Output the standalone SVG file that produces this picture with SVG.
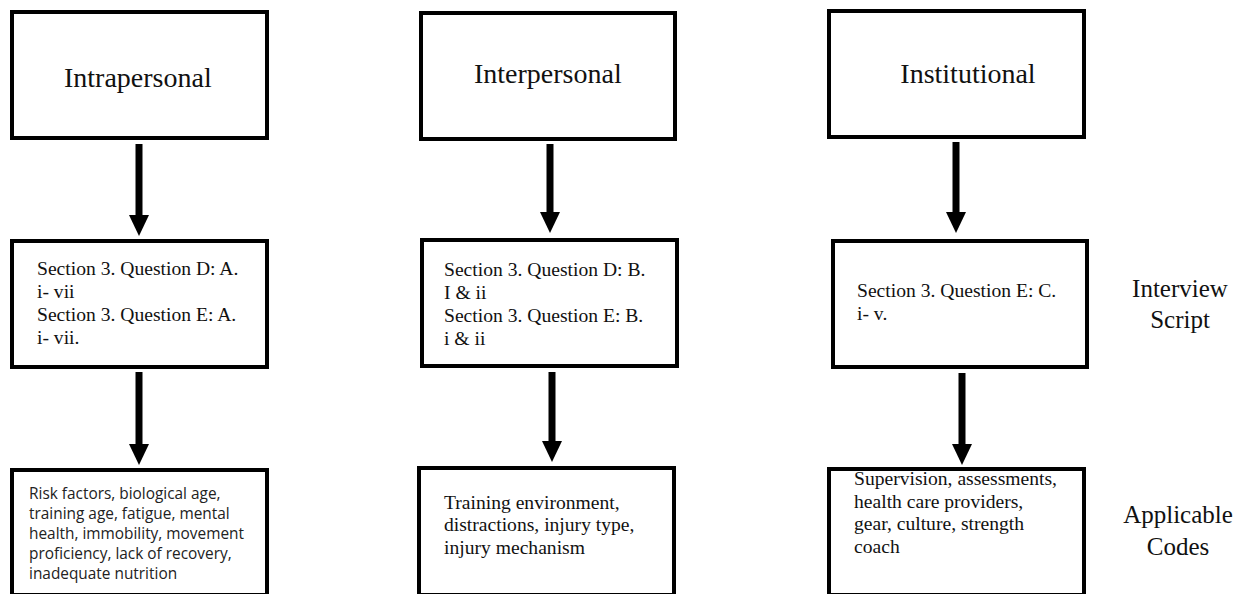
<svg xmlns="http://www.w3.org/2000/svg" width="1243" height="594" viewBox="0 0 1243 594">
  <style>
    .box { fill: #ffffff; stroke: #000000; stroke-width: 4; }
    .title { font-family: "Liberation Serif", "Times New Roman", serif; font-size: 28px; fill: #111111; }
    .body { font-family: "Liberation Serif", "Times New Roman", serif; font-size: 19.6px; fill: #111111; }
    .sans { font-family: "Open Sans", "Noto Sans", sans-serif; font-size: 15.4px; fill: #222222; }
    .side { font-family: "Liberation Serif", "Times New Roman", serif; font-size: 25px; fill: #111111; text-anchor: middle; }
    .link { stroke: #000000; stroke-width: 7; fill: none; marker-end: url(#head); }
  </style>
  <defs>
    <marker id="head" markerUnits="userSpaceOnUse" viewBox="0 -10 21 20" refX="0" refY="0" markerWidth="21" markerHeight="20" orient="auto">
      <path d="M0,-10 L21,0 L0,10 Z" fill="#000000"/>
    </marker>
  </defs>
  <rect width="1243" height="594" fill="#ffffff"/>

  <!-- Top level: the three spheres of influence -->
  <g id="intrapersonal">
    <rect class="box" x="12" y="12" width="255" height="126"/>
    <text class="title" x="64" y="87">Intrapersonal</text>
  </g>
  <g id="interpersonal">
    <rect class="box" x="421" y="13" width="254" height="126"/>
    <text class="title" x="474" y="83">Interpersonal</text>
  </g>
  <g id="institutional">
    <rect class="box" x="829" y="11" width="255" height="126"/>
    <text class="title" x="968" y="83" text-anchor="middle">Institutional</text>
  </g>

  <!-- Middle level: interview script references -->
  <g id="script-intrapersonal">
    <rect class="box" x="12" y="241" width="255" height="126"/>
    <text class="body" x="37" y="275">Section 3. Question D: A.</text>
    <text class="body" x="37" y="298">i- vii</text>
    <text class="body" x="37" y="321">Section 3. Question E: A.</text>
    <text class="body" x="37" y="344">i- vii.</text>
  </g>
  <g id="script-interpersonal">
    <rect class="box" x="422" y="240" width="255" height="126"/>
    <text class="body" x="444" y="276">Section 3. Question D: B.</text>
    <text class="body" x="444" y="299">I &amp; ii</text>
    <text class="body" x="444" y="322">Section 3. Question E: B.</text>
    <text class="body" x="444" y="345">i &amp; ii</text>
  </g>
  <g id="script-institutional">
    <rect class="box" x="833" y="241" width="254" height="126"/>
    <text class="body" x="857" y="297">Section 3. Question E: C.</text>
    <text class="body" x="857" y="320">i- v.</text>
  </g>

  <!-- Bottom level: applicable codes -->
  <g id="codes-intrapersonal">
    <rect class="box" x="12" y="470" width="255" height="125"/>
    <text class="sans" x="29" y="499">Risk factors, biological age,</text>
    <text class="sans" x="29" y="519">training age, fatigue, mental</text>
    <text class="sans" x="29" y="539">health, immobility, movement</text>
    <text class="sans" x="29" y="559">proficiency, lack of recovery,</text>
    <text class="sans" x="29" y="579">inadequate nutrition</text>
  </g>
  <g id="codes-interpersonal">
    <rect class="box" x="419" y="468" width="255" height="127"/>
    <text class="body" x="444" y="509">Training environment,</text>
    <text class="body" x="444" y="531">distractions, injury type,</text>
    <text class="body" x="444" y="554">injury mechanism</text>
  </g>
  <g id="codes-institutional">
    <rect class="box" x="829" y="469" width="255" height="126"/>
    <text class="body" x="854" y="485">Supervision, assessments,</text>
    <text class="body" x="854" y="508">health care providers,</text>
    <text class="body" x="854" y="530">gear, culture, strength</text>
    <text class="body" x="854" y="553">coach</text>
  </g>

  <!-- Row labels -->
  <g id="label-script">
    <text class="side" x="1180" y="297">Interview</text>
    <text class="side" x="1180" y="328">Script</text>
  </g>
  <g id="label-codes">
    <text class="side" x="1178" y="523">Applicable</text>
    <text class="side" x="1178" y="555">Codes</text>
  </g>

  <!-- Connectors -->
  <g id="connectors">
    <line class="link" x1="139" y1="144" x2="139" y2="215"/>
    <line class="link" x1="139" y1="372" x2="139" y2="444"/>
    <line class="link" x1="550" y1="144" x2="550" y2="212"/>
    <line class="link" x1="552" y1="372" x2="552" y2="441"/>
    <line class="link" x1="956" y1="142" x2="956" y2="212"/>
    <line class="link" x1="962" y1="373" x2="962" y2="444"/>
  </g>
</svg>
